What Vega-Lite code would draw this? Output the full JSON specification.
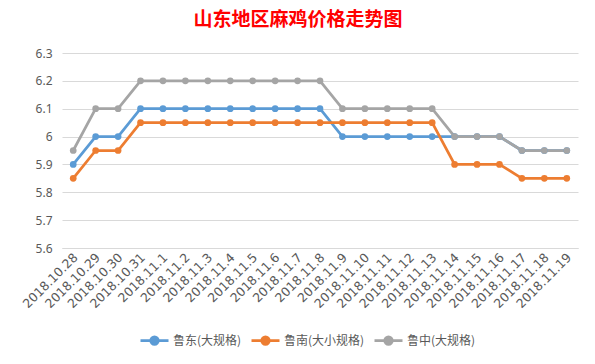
{
  "$schema": "https://vega.github.io/schema/vega-lite/v6.json",
  "width": 516,
  "height": 195,
  "autosize": {"type": "none"},
  "padding": {"left": 62, "top": 53, "right": 17, "bottom": 116},
  "background": "white",
  "title": {
    "text": "山东地区麻鸡价格走势图",
    "color": "#FF0000",
    "fontSize": 19,
    "font": "Noto Sans CJK SC",
    "fontWeight": "bold",
    "anchor": "middle",
    "dx": -22,
    "offset": 17
  },
  "data": {
    "values": [
      {"date": "2018.10.28", "series": "鲁东(大规格)", "price": 5.9},
      {"date": "2018.10.29", "series": "鲁东(大规格)", "price": 6.0},
      {"date": "2018.10.30", "series": "鲁东(大规格)", "price": 6.0},
      {"date": "2018.10.31", "series": "鲁东(大规格)", "price": 6.1},
      {"date": "2018.11.1", "series": "鲁东(大规格)", "price": 6.1},
      {"date": "2018.11.2", "series": "鲁东(大规格)", "price": 6.1},
      {"date": "2018.11.3", "series": "鲁东(大规格)", "price": 6.1},
      {"date": "2018.11.4", "series": "鲁东(大规格)", "price": 6.1},
      {"date": "2018.11.5", "series": "鲁东(大规格)", "price": 6.1},
      {"date": "2018.11.6", "series": "鲁东(大规格)", "price": 6.1},
      {"date": "2018.11.7", "series": "鲁东(大规格)", "price": 6.1},
      {"date": "2018.11.8", "series": "鲁东(大规格)", "price": 6.1},
      {"date": "2018.11.9", "series": "鲁东(大规格)", "price": 6.0},
      {"date": "2018.11.10", "series": "鲁东(大规格)", "price": 6.0},
      {"date": "2018.11.11", "series": "鲁东(大规格)", "price": 6.0},
      {"date": "2018.11.12", "series": "鲁东(大规格)", "price": 6.0},
      {"date": "2018.11.13", "series": "鲁东(大规格)", "price": 6.0},
      {"date": "2018.11.14", "series": "鲁东(大规格)", "price": 6.0},
      {"date": "2018.11.15", "series": "鲁东(大规格)", "price": 6.0},
      {"date": "2018.11.16", "series": "鲁东(大规格)", "price": 6.0},
      {"date": "2018.11.17", "series": "鲁东(大规格)", "price": 5.95},
      {"date": "2018.11.18", "series": "鲁东(大规格)", "price": 5.95},
      {"date": "2018.11.19", "series": "鲁东(大规格)", "price": 5.95},
      {"date": "2018.10.28", "series": "鲁南(大小规格)", "price": 5.85},
      {"date": "2018.10.29", "series": "鲁南(大小规格)", "price": 5.95},
      {"date": "2018.10.30", "series": "鲁南(大小规格)", "price": 5.95},
      {"date": "2018.10.31", "series": "鲁南(大小规格)", "price": 6.05},
      {"date": "2018.11.1", "series": "鲁南(大小规格)", "price": 6.05},
      {"date": "2018.11.2", "series": "鲁南(大小规格)", "price": 6.05},
      {"date": "2018.11.3", "series": "鲁南(大小规格)", "price": 6.05},
      {"date": "2018.11.4", "series": "鲁南(大小规格)", "price": 6.05},
      {"date": "2018.11.5", "series": "鲁南(大小规格)", "price": 6.05},
      {"date": "2018.11.6", "series": "鲁南(大小规格)", "price": 6.05},
      {"date": "2018.11.7", "series": "鲁南(大小规格)", "price": 6.05},
      {"date": "2018.11.8", "series": "鲁南(大小规格)", "price": 6.05},
      {"date": "2018.11.9", "series": "鲁南(大小规格)", "price": 6.05},
      {"date": "2018.11.10", "series": "鲁南(大小规格)", "price": 6.05},
      {"date": "2018.11.11", "series": "鲁南(大小规格)", "price": 6.05},
      {"date": "2018.11.12", "series": "鲁南(大小规格)", "price": 6.05},
      {"date": "2018.11.13", "series": "鲁南(大小规格)", "price": 6.05},
      {"date": "2018.11.14", "series": "鲁南(大小规格)", "price": 5.9},
      {"date": "2018.11.15", "series": "鲁南(大小规格)", "price": 5.9},
      {"date": "2018.11.16", "series": "鲁南(大小规格)", "price": 5.9},
      {"date": "2018.11.17", "series": "鲁南(大小规格)", "price": 5.85},
      {"date": "2018.11.18", "series": "鲁南(大小规格)", "price": 5.85},
      {"date": "2018.11.19", "series": "鲁南(大小规格)", "price": 5.85},
      {"date": "2018.10.28", "series": "鲁中(大规格)", "price": 5.95},
      {"date": "2018.10.29", "series": "鲁中(大规格)", "price": 6.1},
      {"date": "2018.10.30", "series": "鲁中(大规格)", "price": 6.1},
      {"date": "2018.10.31", "series": "鲁中(大规格)", "price": 6.2},
      {"date": "2018.11.1", "series": "鲁中(大规格)", "price": 6.2},
      {"date": "2018.11.2", "series": "鲁中(大规格)", "price": 6.2},
      {"date": "2018.11.3", "series": "鲁中(大规格)", "price": 6.2},
      {"date": "2018.11.4", "series": "鲁中(大规格)", "price": 6.2},
      {"date": "2018.11.5", "series": "鲁中(大规格)", "price": 6.2},
      {"date": "2018.11.6", "series": "鲁中(大规格)", "price": 6.2},
      {"date": "2018.11.7", "series": "鲁中(大规格)", "price": 6.2},
      {"date": "2018.11.8", "series": "鲁中(大规格)", "price": 6.2},
      {"date": "2018.11.9", "series": "鲁中(大规格)", "price": 6.1},
      {"date": "2018.11.10", "series": "鲁中(大规格)", "price": 6.1},
      {"date": "2018.11.11", "series": "鲁中(大规格)", "price": 6.1},
      {"date": "2018.11.12", "series": "鲁中(大规格)", "price": 6.1},
      {"date": "2018.11.13", "series": "鲁中(大规格)", "price": 6.1},
      {"date": "2018.11.14", "series": "鲁中(大规格)", "price": 6.0},
      {"date": "2018.11.15", "series": "鲁中(大规格)", "price": 6.0},
      {"date": "2018.11.16", "series": "鲁中(大规格)", "price": 6.0},
      {"date": "2018.11.17", "series": "鲁中(大规格)", "price": 5.95},
      {"date": "2018.11.18", "series": "鲁中(大规格)", "price": 5.95},
      {"date": "2018.11.19", "series": "鲁中(大规格)", "price": 5.95}
    ]
  },
  "mark": {
    "type": "line",
    "strokeWidth": 2.75,
    "point": {"filled": true, "size": 45}
  },
  "encoding": {
    "x": {
      "field": "date",
      "type": "ordinal",
      "sort": null,
      "scale": {"type": "point", "padding": 0.5},
      "axis": {
        "title": null,
        "grid": false,
        "ticks": false,
        "domainColor": "#D9D9D9",
        "labelAngle": -45,
        "labelAlign": "right",
        "labelBaseline": "middle",
        "labelPadding": 7,
        "labelOffset": 2,
        "labelFont": "DejaVu Sans",
        "labelFontSize": 12.5,
        "labelColor": "#595959"
      }
    },
    "y": {
      "field": "price",
      "type": "quantitative",
      "scale": {"domain": [5.6, 6.3], "nice": false, "zero": false},
      "axis": {
        "title": null,
        "values": [5.6, 5.7, 5.8, 5.9, 6.0, 6.1, 6.2, 6.3],
        "format": ".1~f",
        "domain": false,
        "ticks": false,
        "gridColor": "#D9D9D9",
        "gridWidth": 1,
        "labelPadding": 10,
        "labelFont": "Noto Sans",
        "labelFontSize": 12,
        "labelColor": "#595959"
      }
    },
    "color": {
      "field": "series",
      "type": "nominal",
      "sort": ["鲁东(大规格)", "鲁南(大小规格)", "鲁中(大规格)"],
      "scale": {
        "domain": ["鲁东(大规格)", "鲁南(大小规格)", "鲁中(大规格)"],
        "range": ["#5B9BD5", "#ED7D31", "#A5A5A5"]
      },
      "legend": {
        "title": null,
        "orient": "none",
        "direction": "horizontal",
        "legendX": 77,
        "legendY": 272,
        "symbolType": "M-1,0L1,0M0.27,0A0.27,0.27,0,1,1,-0.27,0A0.27,0.27,0,1,1,0.27,0Z",
        "symbolSize": 784,
        "symbolStrokeWidth": 2.75,
        "labelFont": "Noto Sans CJK SC",
        "labelFontSize": 12,
        "labelColor": "#595959",
        "labelOffset": 3,
        "columnPadding": 4,
        "encode": {
          "symbols": {
            "update": {
              "fill": {"scale": "color", "field": "value"},
              "stroke": {"scale": "color", "field": "value"},
              "opacity": {"value": 1}
            }
          }
        }
      }
    }
  },
  "config": {"view": {"stroke": null}}
}
